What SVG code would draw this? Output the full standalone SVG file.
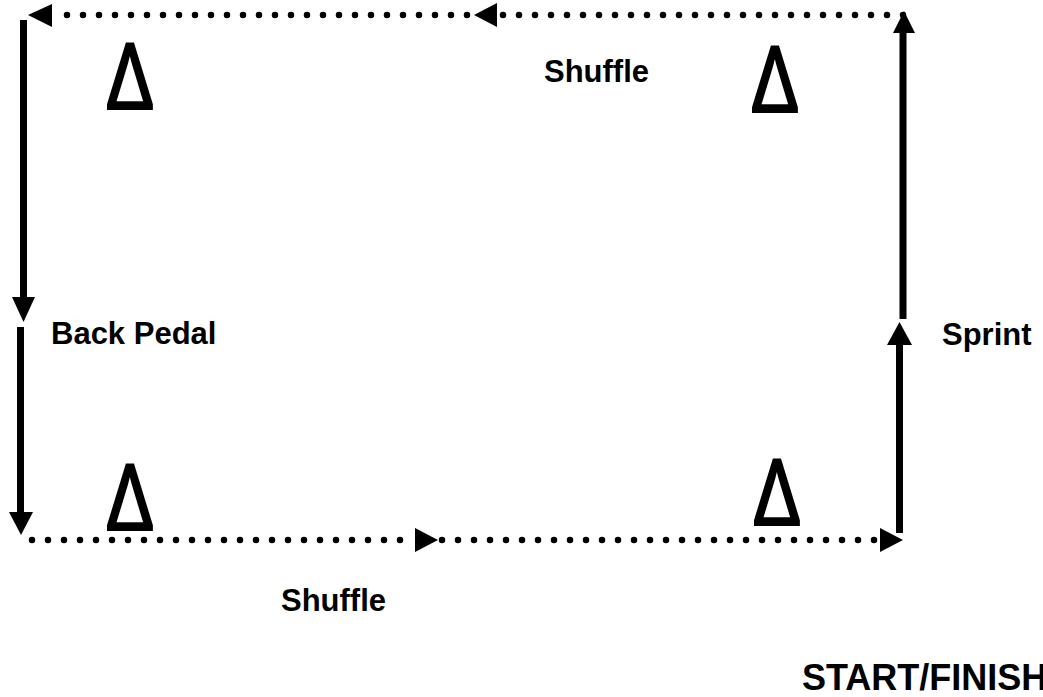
<svg xmlns="http://www.w3.org/2000/svg" width="1043" height="697" viewBox="0 0 1043 697">
<style>
.dot{stroke:#000;stroke-width:6.5;stroke-linecap:round;stroke-dasharray:0 16;fill:none}
.solid{stroke:#000;stroke-width:7;fill:none}
.head{fill:#000}
.lbl{font-family:"Liberation Sans",Arial,sans-serif;font-weight:bold;font-size:31px;fill:#000}
.cone{font-family:"Open Sans",sans-serif;font-weight:normal;font-size:92px;fill:#000;stroke:#000;stroke-width:2.2;stroke-linejoin:miter;stroke-miterlimit:10;text-anchor:middle}
</style>
<rect width="1043" height="697" fill="#fff"/>
<g id="connectors">
<line class="dot" x1="903" y1="15" x2="500" y2="15"/>
<polygon class="head" points="474,15 497,3 497,27"/>
<line class="dot" x1="467" y1="15" x2="60" y2="15"/>
<polygon class="head" points="28,15 52,4 52,27"/>
<line class="solid" x1="23.5" y1="20" x2="23.5" y2="299"/>
<polygon class="head" points="23.5,322 12,297 35,297"/>
<line class="solid" x1="20.5" y1="327" x2="20.5" y2="514"/>
<polygon class="head" points="21,535 9,512 33,512"/>
<line class="dot" x1="32" y1="540" x2="402" y2="540"/>
<polygon class="head" points="438,540 415,528 415,552"/>
<line class="dot" x1="442" y1="540" x2="876" y2="540"/>
<polygon class="head" points="903,540 880,528 880,552"/>
<line class="solid" x1="899.5" y1="533" x2="899.5" y2="343"/>
<polygon class="head" points="899.5,322 887,345 912,345"/>
<line class="solid" x1="903" y1="319" x2="903" y2="31"/>
<polygon class="head" points="904,11 893,33 915,33"/>
</g>
<g id="cone-top-left"><text class="cone" transform="translate(130,109) scale(0.88,1)">Δ</text></g>
<g id="cone-top-right"><text class="cone" transform="translate(775,112) scale(0.88,1)">Δ</text></g>
<g id="cone-bottom-left"><text class="cone" transform="translate(130,530) scale(0.88,1)">Δ</text></g>
<g id="cone-bottom-right"><text class="cone" transform="translate(777,525) scale(0.88,1)">Δ</text></g>
<g id="label-shuffle-top"><text class="lbl" x="544" y="82">Shuffle</text></g>
<g id="label-back-pedal"><text class="lbl" x="51" y="344">Back Pedal</text></g>
<g id="label-sprint"><text class="lbl" x="942" y="345">Sprint</text></g>
<g id="label-shuffle-bottom"><text class="lbl" x="281" y="611">Shuffle</text></g>
<g id="label-start-finish"><text class="lbl" x="802" y="690" style="font-size:36px">START/FINISH</text></g>
</svg>
